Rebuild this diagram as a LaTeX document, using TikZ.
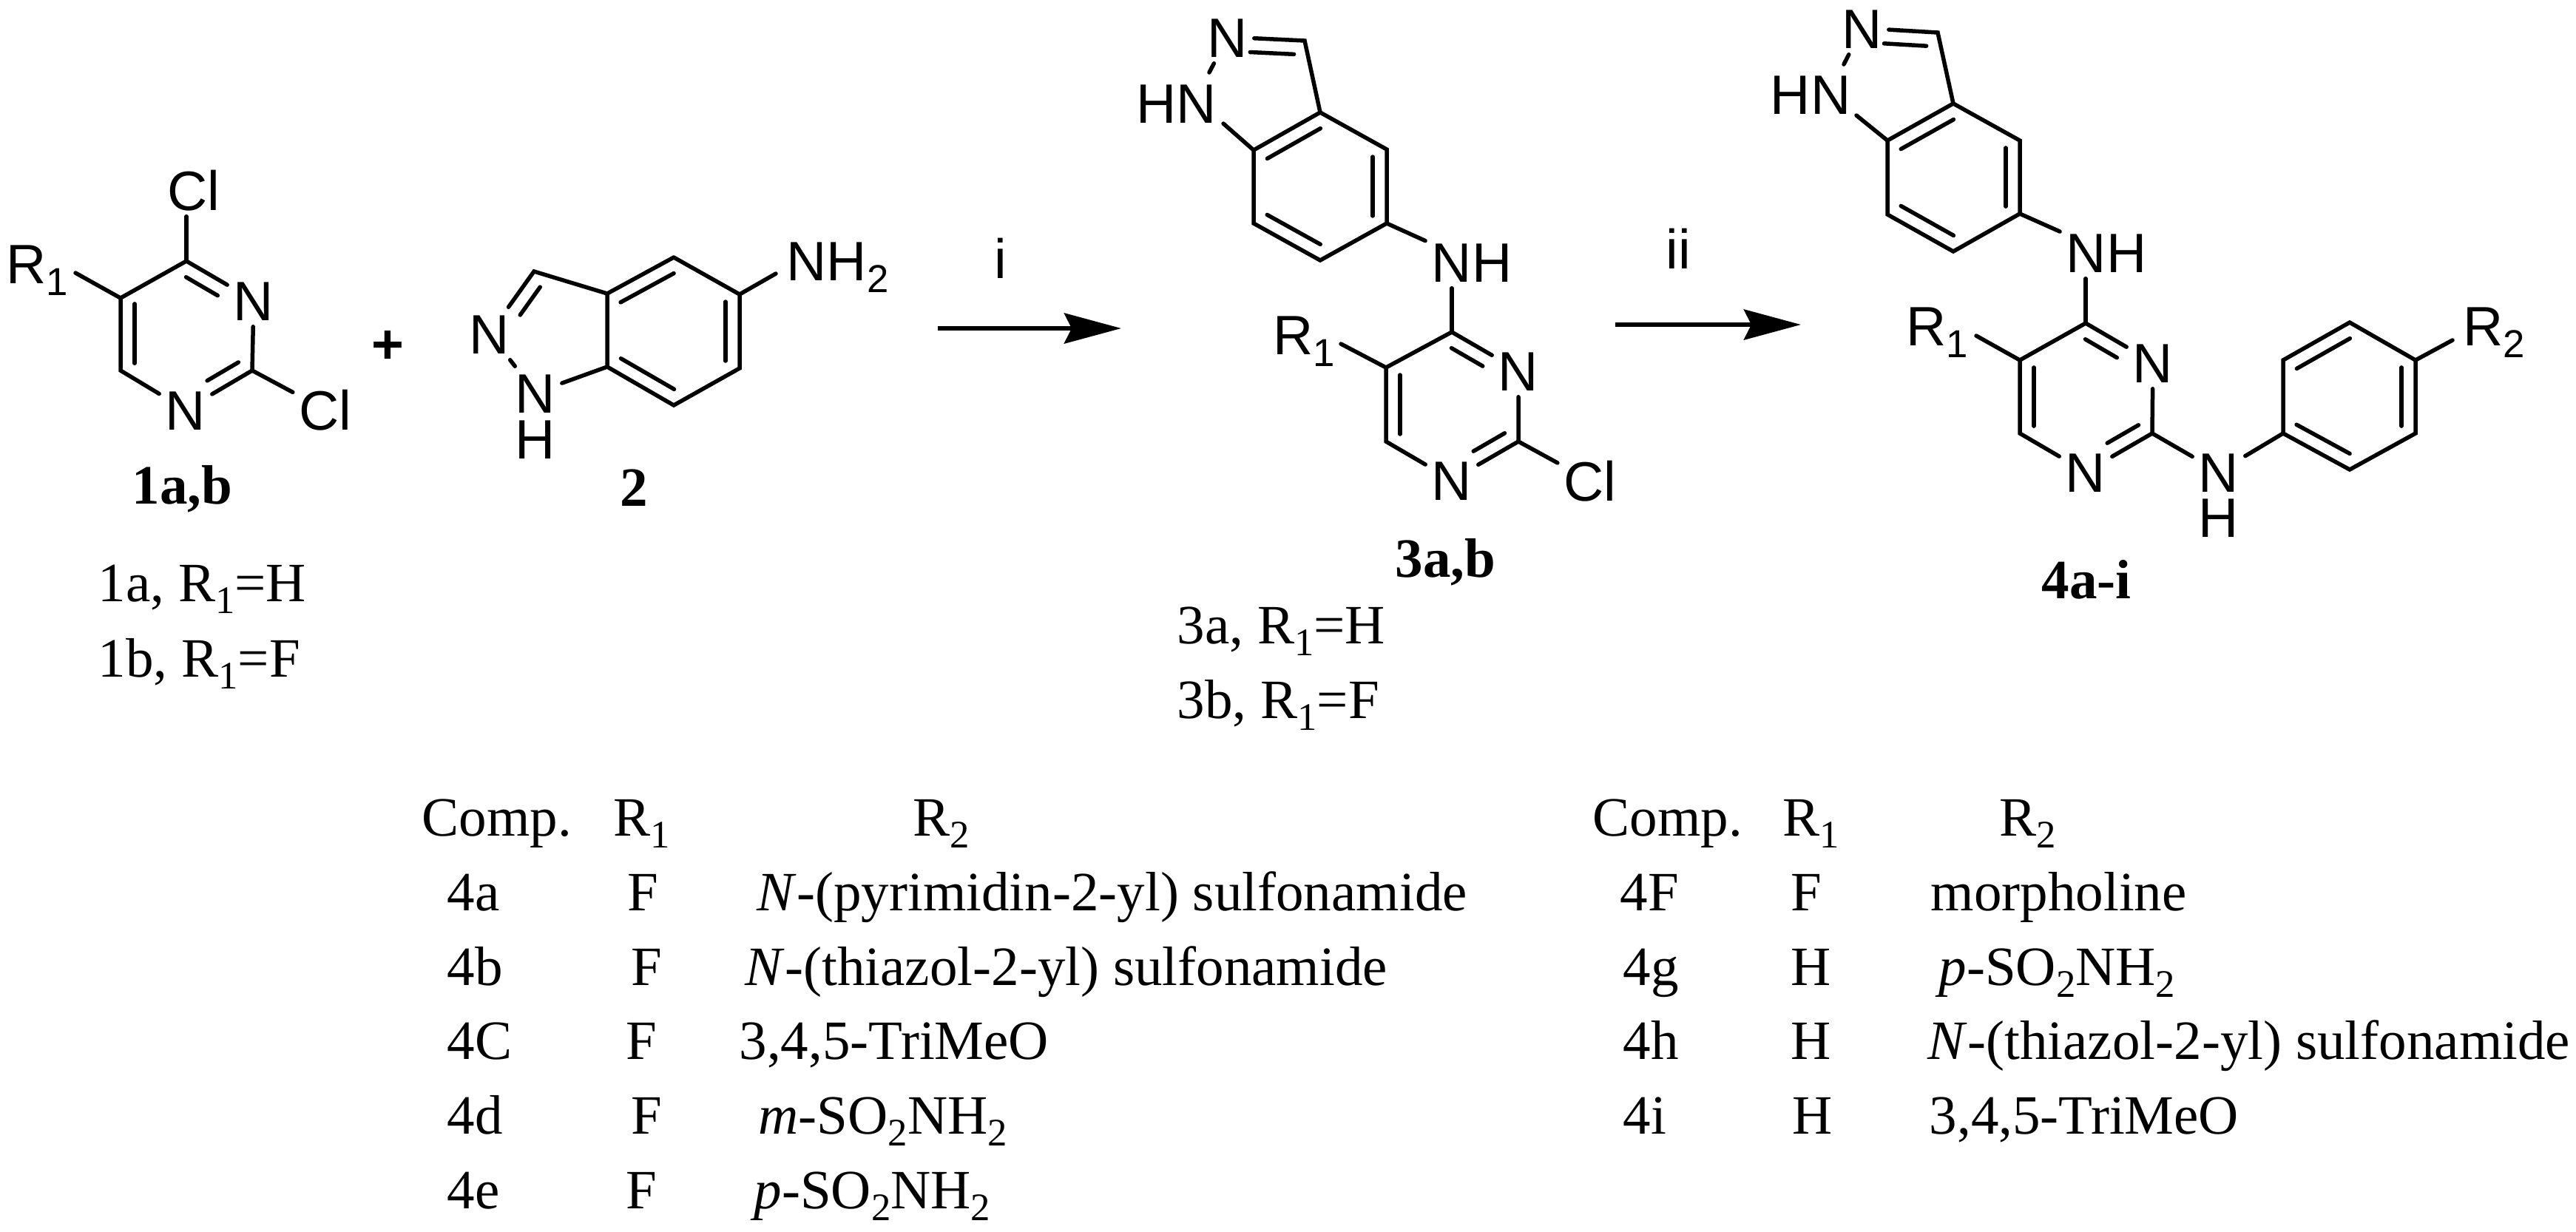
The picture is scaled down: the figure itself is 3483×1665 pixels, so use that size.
\documentclass[tikz,border=0pt]{standalone}
\usepackage{fontspec}
\setmainfont{Liberation Serif}
\newfontfamily\arialfont{Liberation Sans}
\usetikzlibrary{calc,arrows.meta}
\tikzset{
    bond/.style={line width=.055cm,line cap=round},
    reaction/.style={line width=.06cm,-{Stealth[length=.77cm,width=.41cm,inset=.1cm]}},
    atom/.style={font=\arialfont\fontsize{21.34}{26}\selectfont,inner sep=.08cm,text height=.54cm,text depth=0pt},
    group/.style={font=\arialfont\fontsize{21.34}{26}\selectfont,inner sep=0pt,anchor=base west},
    cell/.style={font=\fontsize{21.34}{26}\selectfont,inner sep=0pt,anchor=base west},
    cmpd/.style={font=\bfseries\fontsize{21.34}{26}\selectfont,inner sep=0pt,anchor=base west}
}
\newcommand{\innerbond}[4]{\draw [bond] ($(#1)!#3!(#2)!.19cm!90:(#2)$) -- ($(#1)!#4!(#2)!.19cm!90:(#2)$);}
\newcommand{\lowsub}[1]{\raisebox{-.22em}{\fontsize{15}{18}\selectfont #1}}
\begin{document}
\begin{tikzpicture}[x=.01cm,y=-.01cm]
    \useasboundingbox (0,0) rectangle (3483,1665);

    \coordinate (a4) at (252,353);
    \coordinate (a5) at (163,403);
    \coordinate (a6) at (163,501);
    \coordinate (a2) at (341,501);
    \coordinate (ar) at (102,369);
    \node [atom] (an3) at (343,406) {N};
    \node [atom] (an1) at (251,554) {N};
    \node [atom] (acl4) at (262,257) {Cl};
    \node [atom] (acl2) at (440,554) {Cl};
    \node [group] (ar1) at (8,383) {R\lowsub{1}};
    \draw [bond] (a4) -- (a5) -- (a6) -- (an1) -- (a2) -- (an3) -- (a4);
    \draw [bond] (a4) -- (a4 |- acl4.south);
    \draw [bond] (a2) -- (acl2);
    \draw [bond] (a5) -- (ar);
    \innerbond{a5}{a6}{.08}{.9}
    \innerbond{an1}{a2}{.43}{.9}
    \innerbond{an3}{a4}{.43}{.9}
    \node [cmpd] (a) at (178,681) {1a,b};
    \node [cell] (aa) at (132,813) {1a, R\lowsub{1}=H};
    \node [cell] (ab) at (132,915) {1b, R\lowsub{1}=F};

    \node [group,anchor=base,font=\arialfont\bfseries\fontsize{21.34}{26}\selectfont] (plus) at (524,491) {+};

    \coordinate (b4) at (911,348);
    \coordinate (b5) at (1000,398);
    \coordinate (b6) at (1000,498);
    \coordinate (b7) at (911,548);
    \coordinate (b7a) at (821,496);
    \coordinate (b3a) at (821,397);
    \coordinate (b3) at (722,367);
    \coordinate (bne) at (1049,370);
    \node [atom] (bn2) at (662,451) {N};
    \node [atom] (bn1) at (724,531) {N};
    \node [atom] (bh) at (724,593) {H};
    \node [group] (bnh) at (1063,379) {NH\lowsub{2}};
    \draw [bond] (b4) -- (b5) -- (b6) -- (b7) -- (b7a) -- (b3a) -- (b4);
    \draw [bond] (b3a) -- (b3) -- (bn2) -- (bn1) -- (b7a);
    \draw [bond] (b5) -- (bne);
    \innerbond{b4}{b3a}{.1}{.9}
    \innerbond{b7a}{b7}{.1}{.9}
    \innerbond{b6}{b5}{.1}{.9}
    \innerbond{b3}{bn2}{.12}{.57}
    \node [cmpd] (b) at (838,684) {2};

    \coordinate (s1) at (1268,444);
    \coordinate (t1) at (1516,444);
    \draw [reaction] (s1) -- (t1);
    \node [group,anchor=base] (i) at (1353,376) {i};
    \coordinate (s2) at (2184,439);
    \coordinate (t2) at (2435,439);
    \draw [reaction] (s2) -- (t2);
    \node [group,anchor=base] (ii) at (2269,363) {ii};

    \coordinate (c3) at (1764,55);
    \coordinate (c3a) at (1785,152);
    \coordinate (c4) at (1875,202);
    \coordinate (c5) at (1875,302);
    \coordinate (c6) at (1785,352);
    \coordinate (c7) at (1695,302);
    \coordinate (c7a) at (1695,203);
    \coordinate (cnt) at (1635,98);
    \coordinate (cnb) at (1654,167);
    \node [atom] (cn2) at (1660,50) {N};
    \node [atom] (chn) at (1591,139) {HN};
    \node [atom] (cnh) at (1990,354) {NH};
    \draw [bond] (c3a) -- (c4) -- (c5) -- (c6) -- (c7) -- (c7a) -- (c3a);
    \draw [bond] (c3a) -- (c3) -- (cn2) -- (cnt);
    \draw [bond] (cnb) -- (c7a);
    \draw [bond] (c5) -- (cnh);
    \innerbond{c3a}{c7a}{.1}{.9}
    \innerbond{c7}{c6}{.1}{.9}
    \innerbond{c5}{c4}{.1}{.9}
    \innerbond{c3}{cn2}{.13}{.7}

    \coordinate (e4) at (1963,449);
    \coordinate (e5) at (1874,497);
    \coordinate (e6) at (1874,597);
    \coordinate (e2) at (2053,597);
    \coordinate (er) at (1813,465);
    \node [atom] (en3) at (2053,501) {N};
    \node [atom] (en1) at (1963,649) {N};
    \node [atom] (ecl) at (2150,650) {Cl};
    \node [group] (er1) at (1721,479) {R\lowsub{1}};
    \draw [bond] (e4) -- (e5) -- (e6) -- (en1) -- (e2) -- (en3) -- (e4);
    \draw [bond] (e4) -- (e4 |- cnh.south);
    \draw [bond] (e2) -- (ecl);
    \draw [bond] (e5) -- (er);
    \innerbond{e5}{e6}{.1}{.9}
    \innerbond{en1}{e2}{.43}{.9}
    \innerbond{en3}{e4}{.43}{.9}
    \node [cmpd] (e) at (1886,780) {3a,b};
    \node [cell] (ea) at (1591,870) {3a, R\lowsub{1}=H};
    \node [cell] (eb) at (1591,971) {3b, R\lowsub{1}=F};

    \coordinate (d3) at (2620,44);
    \coordinate (d3a) at (2641,140);
    \coordinate (d4) at (2731,190);
    \coordinate (d5) at (2731,289);
    \coordinate (d6) at (2641,340);
    \coordinate (d7) at (2552,290);
    \coordinate (d7a) at (2552,190);
    \coordinate (dnt) at (2493,87);
    \coordinate (dnb) at (2510,156);
    \node [atom] (dn2) at (2518,38) {N};
    \node [atom] (dhn) at (2448,127) {HN};
    \node [atom] (dnh) at (2848,341) {NH};
    \draw [bond] (d3a) -- (d4) -- (d5) -- (d6) -- (d7) -- (d7a) -- (d3a);
    \draw [bond] (d3a) -- (d3) -- (dn2) -- (dnt);
    \draw [bond] (dnb) -- (d7a);
    \draw [bond] (d5) -- (dnh);
    \innerbond{d3a}{d7a}{.1}{.9}
    \innerbond{d7}{d6}{.1}{.9}
    \innerbond{d5}{d4}{.1}{.9}
    \innerbond{d3}{dn2}{.14}{.7}

    \coordinate (f4) at (2820,437);
    \coordinate (f5) at (2731,487);
    \coordinate (f6) at (2731,586);
    \coordinate (f2) at (2910,586);
    \coordinate (fr) at (2672,454);
    \node [atom] (fn3) at (2911,490) {N};
    \node [atom] (fn1) at (2820,638) {N};
    \node [atom] (fnh) at (3000,638) {N};
    \node [atom] (fh) at (3000,699) {H};
    \node [group] (fr1) at (2577,467) {R\lowsub{1}};
    \draw [bond] (f4) -- (f5) -- (f6) -- (fn1) -- (f2) -- (fn3) -- (f4);
    \draw [bond] (f4) -- (f4 |- dnh.south);
    \draw [bond] (f5) -- (fr);
    \innerbond{f5}{f6}{.1}{.9}
    \innerbond{fn1}{f2}{.43}{.9}
    \innerbond{fn3}{f4}{.43}{.9}

    \coordinate (g1) at (3087,586);
    \coordinate (g2) at (3177,635);
    \coordinate (g3) at (3266,586);
    \coordinate (g4) at (3266,487);
    \coordinate (g5) at (3177,436);
    \coordinate (g6) at (3087,487);
    \coordinate (gr) at (3316,460);
    \node [group] (gr2) at (3330,467) {R\lowsub{2}};
    \draw [bond] (g1) -- (g2) -- (g3) -- (g4) -- (g5) -- (g6) -- (g1);
    \draw [bond] (f2) -- (fnh) -- (g1);
    \draw [bond] (g4) -- (gr);
    \innerbond{g5}{g6}{.1}{.9}
    \innerbond{g1}{g2}{.1}{.9}
    \innerbond{g3}{g4}{.1}{.9}
    \node [cmpd] (f) at (2760,809) {4a-i};

    \node [cell] (h1) at (570,1130) {Comp.};
    \node [cell] (h2) at (829,1130) {R\lowsub{1}};
    \node [cell] (h3) at (1234,1130) {R\lowsub{2}};
    \node [cell] (r1a) at (604,1231) {4a};
    \node [cell] (r1b) at (848,1231) {F};
    \node [cell] (r1c) at (1023,1231) {\textit{N}-(pyrimidin-2-yl) sulfonamide};
    \node [cell] (r2a) at (604,1332) {4b};
    \node [cell] (r2b) at (853,1332) {F};
    \node [cell] (r2c) at (1007,1332) {\textit{N}-(thiazol-2-yl) sulfonamide};
    \node [cell] (r3a) at (604,1432) {4C};
    \node [cell] (r3b) at (846,1432) {F};
    \node [cell] (r3c) at (999,1432) {3,4,5-TriMeO};
    \node [cell] (r4a) at (604,1533) {4d};
    \node [cell] (r4b) at (853,1533) {F};
    \node [cell] (r4c) at (1025,1533) {\textit{m}-SO\lowsub{2}NH\lowsub{2}};
    \node [cell] (r5a) at (604,1634) {4e};
    \node [cell] (r5b) at (846,1634) {F};
    \node [cell] (r5c) at (1019,1634) {\textit{p}-SO\lowsub{2}NH\lowsub{2}};

    \node [cell] (k1) at (2153,1130) {Comp.};
    \node [cell] (k2) at (2410,1130) {R\lowsub{1}};
    \node [cell] (k3) at (2703,1130) {R\lowsub{2}};
    \node [cell] (s1a) at (2190,1231) {4F};
    \node [cell] (s1b) at (2421,1231) {F};
    \node [cell] (s1c) at (2610,1231) {morpholine};
    \node [cell] (s2a) at (2194,1332) {4g};
    \node [cell] (s2b) at (2421,1332) {H};
    \node [cell] (s2c) at (2621,1332) {\textit{p}-SO\lowsub{2}NH\lowsub{2}};
    \node [cell] (s3a) at (2194,1432) {4h};
    \node [cell] (s3b) at (2421,1432) {H};
    \node [cell] (s3c) at (2606,1432) {\textit{N}-(thiazol-2-yl) sulfonamide};
    \node [cell] (s4a) at (2194,1533) {4i};
    \node [cell] (s4b) at (2423,1533) {H};
    \node [cell] (s4c) at (2608,1533) {3,4,5-TriMeO};
\end{tikzpicture}
\end{document}
